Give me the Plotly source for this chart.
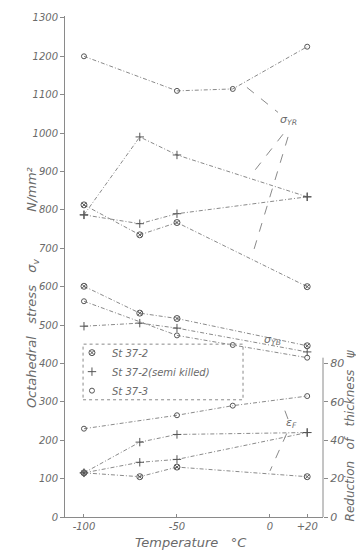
import plotly.graph_objects as go

# ---------------- data ----------------
temps_37_2 = [-100, -70, -50, 20]
temps_semi = [-100, -70, -50, 20]
temps_37_3 = [-100, -50, -20, 20]

# sigma_YR group (N/mm2)
yr_37_2 = [813, 735, 767, 600]
yr_semi_a = [787, 990, 943, 834]
yr_semi_b = [787, 764, 790, 834]
yr_37_3 = [1200, 1110, 1115, 1225]

# sigma_YB group (N/mm2)
yb_37_2 = [601, 531, 517, 446]
yb_semi = [497, 505, 492, 430]
yb_37_3 = [562, 473, 448, 415]

# reduction of thickness psi (%)
psi_37_2 = [23, 21, 26, 21]
psi_semi_a = [23, 39, 43, 44]
psi_semi_b = [23, 28.5, 30, 44]
psi_37_3 = [46, 53, 58, 63]

x_tickvals = [-100, -50, 0, 20]
x_ticktext = ["-100", "-50", "0", "+20"]
y_tickvals = list(range(0, 1301, 100))
y2_tickvals = [0, 20, 40, 60, 80]

names = ["St 37-2", "St 37-2(semi killed)", "St 37-3"]

# ---------------- styling ----------------
LINE = "#8a8a8a"
MARK = "#555555"
TXT = "#6a6a6a"
FONT = "DejaVu Sans"
sym = {"St 37-2": "circle-x-open", "St 37-2(semi killed)": "cross-thin-open",
       "St 37-3": "circle-open"}
msize = {"St 37-2": 6, "St 37-2(semi killed)": 6, "St 37-3": 5}

fig = go.Figure()


def add(x, y, name, yaxis="y"):
    fig.add_trace(go.Scatter(
        x=x, y=y, mode="lines+markers", yaxis=yaxis, showlegend=False,
        name=name,
        line=dict(color=LINE, width=1, dash="4px,2px,1px,2px"),
        marker=dict(symbol=sym[name], size=msize[name], color=MARK,
                    line=dict(color=MARK, width=1)),
    ))


add(temps_37_3, yr_37_3, "St 37-3")
add(temps_semi, yr_semi_a, "St 37-2(semi killed)")
add(temps_semi, yr_semi_b, "St 37-2(semi killed)")
add(temps_37_2, yr_37_2, "St 37-2")

add(temps_37_2, yb_37_2, "St 37-2")
add(temps_semi, yb_semi, "St 37-2(semi killed)")
add(temps_37_3, yb_37_3, "St 37-3")

add(temps_37_3, psi_37_3, "St 37-3", "y2")
add(temps_semi, psi_semi_a, "St 37-2(semi killed)", "y2")
add(temps_semi, psi_semi_b, "St 37-2(semi killed)", "y2")
add(temps_37_2, psi_37_2, "St 37-2", "y2")

# legend entries (markers only)
for n in names:
    fig.add_trace(go.Scatter(
        x=[None], y=[None], mode="markers", name=n,
        marker=dict(symbol=sym[n], size=msize[n], color=MARK,
                    line=dict(color=MARK, width=1)),
    ))

tickfont = dict(family=FONT, size=10, color=TXT, style="italic")

fig.update_layout(
    width=356, height=552,
    margin=dict(l=65, r=33, t=13, b=35),
    paper_bgcolor="white", plot_bgcolor="white",
    font=dict(family=FONT, color=TXT, style="italic"),
    xaxis=dict(range=[-110.2, 28.5], tickvals=x_tickvals, ticktext=x_ticktext,
               showgrid=False, zeroline=False, showline=True, linecolor=LINE,
               linewidth=1, ticks="inside", ticklen=3, tickcolor=LINE,
               tickfont=tickfont),
    yaxis=dict(range=[0, 1305], tickvals=y_tickvals, showgrid=False,
               zeroline=False, showline=True, linecolor=LINE, linewidth=1,
               ticks="outside", ticklen=4, tickcolor=LINE, tickfont=tickfont),
    yaxis2=dict(range=[0, 261], overlaying="y", side="right",
                tickvals=y2_tickvals, showgrid=False, zeroline=False,
                showline=False, ticks="outside", ticklen=4, tickcolor=LINE,
                tickfont=dict(family=FONT, size=11, color=TXT, style="italic")),
    legend=dict(x=0.027, y=0.357, xanchor="left", yanchor="top",
                bgcolor="rgba(0,0,0,0)", borderwidth=0,
                font=dict(family=FONT, size=10, color=TXT, style="italic")),
)

shapes = [
    # right axis line (only 0..~83)
    dict(type="line", xref="paper", yref="y2", x0=1, x1=1, y0=0, y1=83,
         line=dict(color=LINE, width=1)),
    # dashed legend box
    dict(type="rect", xref="paper", yref="paper", x0=0.07, x1=0.69,
         y0=0.234, y1=0.345, line=dict(color=LINE, width=1, dash="dot")),
    # sigma_YR leaders
    dict(type="line", xref="x", yref="y", x0=-12.4, y0=1119, x1=4.3, y1=1054,
         line=dict(color=LINE, width=1, dash="dash")),
    dict(type="line", xref="x", yref="y", x0=7, y0=997, x1=-8, y1=904,
         line=dict(color=LINE, width=1, dash="dash")),
    dict(type="line", xref="x", yref="y", x0=9.7, y0=990, x1=-8.6, y1=697,
         line=dict(color=LINE, width=1, dash="dash")),
    # eps_F leaders
    dict(type="line", xref="x", yref="y2", x0=9.7, y0=51, x1=7, y1=58,
         line=dict(color=LINE, width=1, dash="dash")),
    dict(type="line", xref="x", yref="y2", x0=9, y0=43.5, x1=0, y1=24,
         line=dict(color=LINE, width=1, dash="dash")),
]
fig.update_layout(shapes=shapes)

ann_font = dict(family=FONT, size=11, color=TXT, style="italic")
title_font = dict(family=FONT, size=13, color=TXT, style="italic")
annotations = [
    dict(text="σ<sub>YR</sub>", x=9.7, y=1034, xref="x", yref="y",
         showarrow=False, font=ann_font),
    dict(text="σ<sub>YB</sub>", x=1.6, y=461, xref="x", yref="y",
         showarrow=False, font=ann_font),
    dict(text="ε<sub>F</sub>", x=11.8, y=49, xref="x", yref="y2",
         showarrow=False, font=ann_font),
    dict(text="Octahedral   stress   σ<sub>v</sub>", x=-0.128, y=0.367,
         xref="paper", yref="paper", textangle=-90, showarrow=False,
         xanchor="center", yanchor="middle", font=title_font),
    dict(text="N/mm²", x=-0.128, y=0.655, xref="paper", yref="paper",
         textangle=-90, showarrow=False, xanchor="center", yanchor="middle",
         font=title_font),
    dict(text="Reduction   of   thickness   ψ", x=1.105, y=0.163,
         xref="paper", yref="paper", textangle=-90, showarrow=False,
         xanchor="center", yanchor="middle",
         font=dict(family=FONT, size=12, color=TXT, style="italic")),
    dict(text="Temperature   °C", x=0.488, y=-0.05, xref="paper", yref="paper",
         showarrow=False, xanchor="center", yanchor="middle", font=title_font),
]
fig.update_layout(annotations=annotations)

fig.write_html(
    "out.html",
    config={"displayModeBar": False},
    post_script="document.body.style.margin='0';"
                "document.body.style.overflow='hidden';",
)
